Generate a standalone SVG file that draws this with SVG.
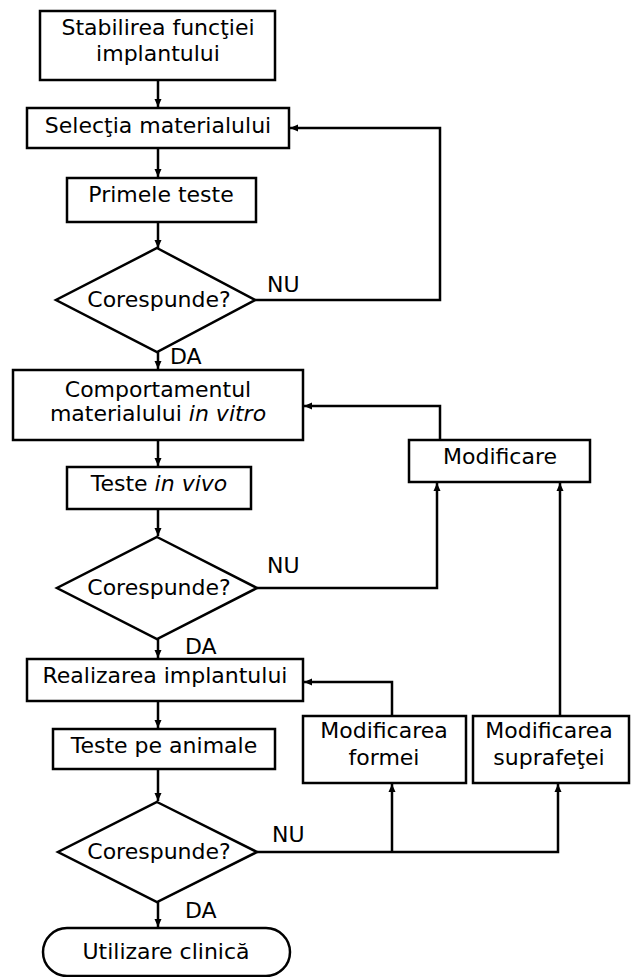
<svg xmlns="http://www.w3.org/2000/svg" width="631" height="977" viewBox="0 0 631 977">
<style>
.b{fill:#fff;stroke:#000;stroke-width:2.5}
.t{font-family:"DejaVu Sans",Verdana,sans-serif;font-size:22px;fill:#000;text-anchor:middle}
.l{font-family:"DejaVu Sans",Verdana,sans-serif;font-size:22px;fill:#000}
.c{fill:none;stroke:#000;stroke-width:2.5}
</style>
<defs>
<marker id="ah" markerWidth="10" markerHeight="10" refX="9" refY="5" orient="auto" markerUnits="userSpaceOnUse">
<path d="M1,1.5 L9,5 L1,8.5 Z" fill="#000"/>
</marker>
</defs>
<rect width="631" height="977" fill="#fff"/>
<g id="connectors">
<path class="c" d="M158,80 V107" marker-end="url(#ah)"/>
<path class="c" d="M158,148 V177" marker-end="url(#ah)"/>
<path class="c" d="M158,222 V248" marker-end="url(#ah)"/>
<path class="c" d="M255,300 H440 V128 H290" marker-end="url(#ah)"/>
<path class="c" d="M158,352 V369" marker-end="url(#ah)"/>
<path class="c" d="M440,440 V406 H304" marker-end="url(#ah)"/>
<path class="c" d="M158,440 V466" marker-end="url(#ah)"/>
<path class="c" d="M158,509 V536" marker-end="url(#ah)"/>
<path class="c" d="M257,588 H437 V483" marker-end="url(#ah)"/>
<path class="c" d="M158,639 V658" marker-end="url(#ah)"/>
<path class="c" d="M560,716 V483" marker-end="url(#ah)"/>
<path class="c" d="M392,716 V682 H304" marker-end="url(#ah)"/>
<path class="c" d="M158,701 V728" marker-end="url(#ah)"/>
<path class="c" d="M158,769 V801" marker-end="url(#ah)"/>
<path class="c" d="M257,852 H558 V784" marker-end="url(#ah)"/>
<path class="c" d="M392,852 V784" marker-end="url(#ah)"/>
<path class="c" d="M158,902 V927" marker-end="url(#ah)"/>
</g>
<g id="n1"><rect class="b" x="40" y="11" width="235" height="69"/>
<text class="t" x="158" y="35">Stabilirea funcţiei</text><text class="t" x="158" y="61">implantului</text></g>
<g id="n2"><rect class="b" x="27" y="108" width="262" height="40"/>
<text class="t" x="158" y="133">Selecţia materialului</text></g>
<g id="n3"><rect class="b" x="67" y="178" width="189" height="44"/>
<text class="t" x="161" y="202">Primele teste</text></g>
<g id="d1"><polygon class="b" points="157,248 255,300 157,352 56,300"/>
<text class="t" x="159" y="307">Corespunde?</text></g>
<g id="n4"><rect class="b" x="13" y="370" width="290" height="70"/>
<text class="t" x="158" y="397">Comportamentul</text><text class="t" x="158" y="421">materialului <tspan font-style="italic">in vitro</tspan></text></g>
<g id="n5"><rect class="b" x="409" y="440" width="181" height="42"/>
<text class="t" x="500" y="464">Modificare</text></g>
<g id="n6"><rect class="b" x="67" y="467" width="184" height="42"/>
<text class="t" x="159" y="491">Teste <tspan font-style="italic">in vivo</tspan></text></g>
<g id="d2"><polygon class="b" points="157,537 257,588 157,639 57,588"/>
<text class="t" x="159" y="595">Corespunde?</text></g>
<g id="n7"><rect class="b" x="27" y="659" width="276" height="42"/>
<text class="t" x="165" y="683">Realizarea implantului</text></g>
<g id="n8"><rect class="b" x="53" y="729" width="222" height="40"/>
<text class="t" x="164" y="753">Teste pe animale</text></g>
<g id="n9"><rect class="b" x="303" y="716" width="163" height="67"/>
<text class="t" x="384" y="738">Modificarea</text><text class="t" x="384" y="765">formei</text></g>
<g id="n10"><rect class="b" x="473" y="716" width="156" height="67"/>
<text class="t" x="549" y="738">Modificarea</text><text class="t" x="549" y="765">suprafeţei</text></g>
<g id="d3"><polygon class="b" points="157,802 257,852 157,902 58,852"/>
<text class="t" x="159" y="859">Corespunde?</text></g>
<g id="n11"><rect class="b" x="43" y="928" width="247" height="48" rx="24" ry="24"/>
<text class="t" x="166" y="959">Utilizare clinică</text></g>
<g id="labels">
<text class="l" x="267" y="292">NU</text>
<text class="l" x="170" y="364">DA</text>
<text class="l" x="267" y="573">NU</text>
<text class="l" x="185" y="654">DA</text>
<text class="l" x="272" y="842">NU</text>
<text class="l" x="185" y="918">DA</text>
</g>
</svg>
